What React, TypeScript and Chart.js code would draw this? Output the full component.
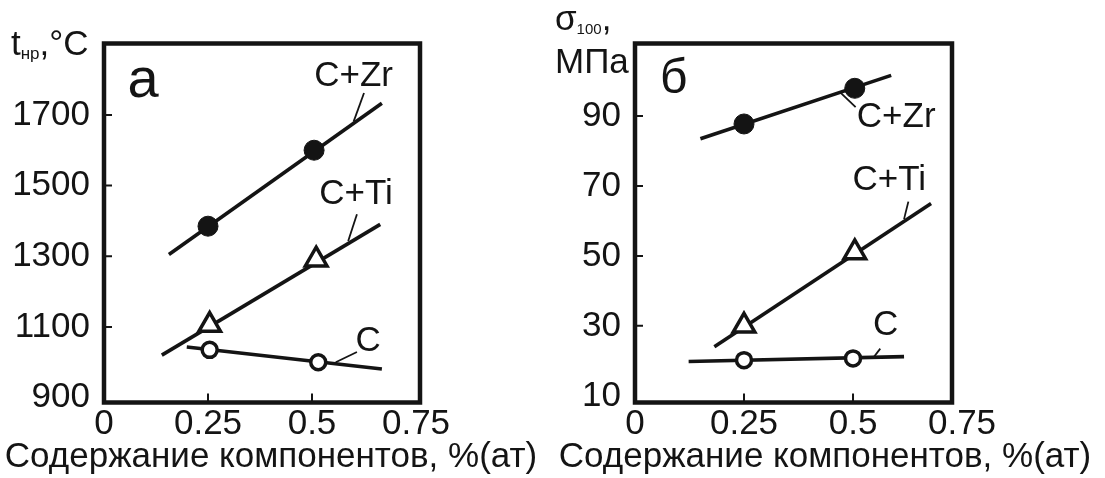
import React, { useEffect, useRef } from "react";
import { Chart, registerables } from "chart.js";

Chart.register(...registerables);

const FONT = '"Liberation Sans", Arial, Helvetica, sans-serif';
const INK = "#141414";

// ---------- shared ----------
const xTickValues = [0, 0.25, 0.5, 0.75];
const seriesNames = ["C+Zr", "C+Ti", "C"];
const xTitleText = "Содержание компонентов, %(ат)";

// ---------- panel а : t_нр, °C ----------
const tempTicks = [900, 1100, 1300, 1500, 1700];
const tempZrX = [0.25, 0.505];
const tempZr = [1385, 1600];
const tempTiX = [0.254, 0.51];
const tempTi = [1105, 1290];
const tempCX = [0.254, 0.515];
const tempC = [1035, 1000];
const tempZrFitX = [0.156, 0.668];
const tempZrFit = [1305, 1733];
const tempTiFitX = [0.139, 0.664];
const tempTiFit = [1020, 1390];
const tempCFitX = [0.199, 0.668];
const tempCFit = [1043, 981];

// ---------- panel б : σ100, МПа ----------
const stressTicks = [10, 30, 50, 70, 90];
const stressZrX = [0.25, 0.504];
const stressZr = [87.7, 97.9];
const stressTiX = [0.25, 0.504];
const stressTi = [30, 51];
const stressCX = [0.25, 0.5];
const stressC = [20.2, 20.7];
const stressZrFitX = [0.15, 0.5875];
const stressZrFit = [83.5, 101.6];
const stressTiFitX = [0.182, 0.679];
const stressTiFit = [24, 65];
const stressCFitX = [0.123, 0.617];
const stressCFit = [19.8, 21.2];

const pts = (xs: number[], ys: number[]) => xs.map((x, i) => ({ x, y: ys[i] }));

type Label = { text: string; x: number; y: number };
type Panel = {
  canvasWidth: number;
  left: number;
  yAxisWidth: number;
  padRight: number;
  yMin: number;
  yMax: number;
  xMax: number;
  yTicks: number[];
  fits: { x: number; y: number }[][];
  zr: { x: number; y: number }[];
  ti: { x: number; y: number }[];
  c: { x: number; y: number }[];
  leaders: { x: number; y: number }[][];
  labels: Label[];
  letter: Label & { size: number };
  xTitleX: number;
  yTitle: (ctx: CanvasRenderingContext2D) => void;
};

const TEXT = 35;
const font = (size: number) => `${size}px ${FONT}`;

const panelA: Panel = {
  canvasWidth: 552,
  left: 0,
  yAxisWidth: 104,
  padRight: 132,
  yMin: 886,
  yMax: 1902,
  xMax: 0.7596,
  yTicks: tempTicks,
  fits: [pts(tempZrFitX, tempZrFit), pts(tempTiFitX, tempTiFit), pts(tempCFitX, tempCFit)],
  zr: pts(tempZrX, tempZr),
  ti: pts(tempTiX, tempTi),
  c: pts(tempCX, tempC),
  leaders: [
    [{ x: 0.625, y: 1762 }, { x: 0.6, y: 1681 }],
    [{ x: 0.608, y: 1419 }, { x: 0.587, y: 1343 }],
    [{ x: 0.608, y: 1029 }, { x: 0.557, y: 1000 }],
  ],
  labels: [
    { text: seriesNames[0], x: 0.6, y: 1808 },
    { text: seriesNames[1], x: 0.606, y: 1475 },
    { text: seriesNames[2], x: 0.635, y: 1060 },
  ],
  letter: { text: "а", x: 0.094, y: 1793, size: 56 },
  xTitleX: 271,
  yTitle: (ctx) => {
    ctx.textAlign = "left";
    ctx.textBaseline = "alphabetic";
    let x = 11;
    ctx.font = font(TEXT);
    ctx.fillText("t", x, 55);
    x += ctx.measureText("t").width;
    ctx.font = font(17);
    ctx.fillText("нр", x, 59);
    x += ctx.measureText("нр").width;
    ctx.font = font(TEXT);
    ctx.fillText(",°C", x, 55);
  },
};

const panelB: Panel = {
  canvasWidth: 553,
  left: 552,
  yAxisWidth: 83,
  padRight: 153,
  yMin: 8.1,
  yMax: 110.7,
  xMax: 0.727,
  yTicks: stressTicks,
  fits: [pts(stressZrFitX, stressZrFit), pts(stressTiFitX, stressTiFit), pts(stressCFitX, stressCFit)],
  zr: pts(stressZrX, stressZr),
  ti: pts(stressTiX, stressTi),
  c: pts(stressCX, stressC),
  leaders: [
    [{ x: 0.47, y: 96.8 }, { x: 0.506, y: 92.5 }],
    [{ x: 0.627, y: 65.5 }, { x: 0.617, y: 60.5 }],
    [{ x: 0.5625, y: 23.5 }, { x: 0.546, y: 20.8 }],
  ],
  labels: [
    { text: seriesNames[0], x: 0.599, y: 89.6 },
    { text: seriesNames[1], x: 0.583, y: 71.5 },
    { text: seriesNames[2], x: 0.575, y: 30.2 },
  ],
  letter: { text: "б", x: 0.089, y: 100.3, size: 48 },
  xTitleX: 273,
  yTitle: (ctx) => {
    ctx.textAlign = "left";
    ctx.textBaseline = "alphabetic";
    let x = 3;
    ctx.font = font(TEXT);
    ctx.fillText("σ", x, 30);
    x += ctx.measureText("σ").width;
    ctx.font = font(15);
    ctx.fillText("100", x, 34);
    x += ctx.measureText("100").width;
    ctx.font = font(TEXT);
    ctx.fillText(",", x, 30);
    ctx.fillText("МПа", 3, 73);
  },
};

const decorPlugin = (panel: Panel) => ({
  id: "decor",
  afterDraw(chart: any) {
    const { ctx, chartArea: a, scales } = chart;
    const sx = scales.x;
    const sy = scales.y;
    ctx.save();
    ctx.strokeStyle = INK;
    ctx.fillStyle = INK;
    // frame
    ctx.lineWidth = 4.5;
    ctx.strokeRect(a.left, a.top, a.right - a.left, a.bottom - a.top);
    // inward tick marks
    ctx.lineWidth = 2;
    ctx.beginPath();
    sy.ticks.forEach((t: any) => {
      const py = sy.getPixelForValue(t.value);
      if (py > a.top + 10 && py < a.bottom - 10) {
        ctx.moveTo(a.left, py);
        ctx.lineTo(a.left + 8, py);
      }
    });
    sx.ticks.forEach((t: any) => {
      const px = sx.getPixelForValue(t.value);
      if (px > a.left + 10 && px < a.right - 10) {
        ctx.moveTo(px, a.bottom);
        ctx.lineTo(px, a.bottom - 9);
      }
    });
    ctx.stroke();
    // series labels
    ctx.textAlign = "center";
    ctx.textBaseline = "middle";
    ctx.font = font(TEXT);
    panel.labels.forEach((l) => {
      ctx.fillText(l.text, sx.getPixelForValue(l.x), sy.getPixelForValue(l.y));
    });
    // panel letter
    ctx.font = font(panel.letter.size);
    ctx.fillText(panel.letter.text, sx.getPixelForValue(panel.letter.x), sy.getPixelForValue(panel.letter.y));
    // x title
    ctx.font = font(TEXT);
    ctx.textBaseline = "alphabetic";
    ctx.fillText(xTitleText, panel.xTitleX, 467);
    // y title
    panel.yTitle(ctx);
    ctx.restore();
  },
});

function buildConfig(panel: Panel): any {
  const lineDs = (data: any[], width: number, order: number) => ({
    data,
    showLine: true,
    borderColor: INK,
    borderWidth: width,
    pointRadius: 0,
    pointHoverRadius: 0,
    fill: false,
    order,
  });
  const datasets: any[] = [
    ...panel.fits.map((d) => lineDs(d, 3.6, 2)),
    ...panel.leaders.map((d) => lineDs(d, 1.8, 2)),
    {
      label: seriesNames[0],
      data: panel.zr,
      showLine: false,
      pointStyle: "circle",
      pointRadius: 10,
      pointBackgroundColor: INK,
      pointBorderColor: INK,
      pointBorderWidth: 1,
      order: 0,
    },
    {
      label: seriesNames[1],
      data: panel.ti,
      showLine: false,
      pointStyle: "triangle",
      pointRadius: 12.5,
      pointBackgroundColor: "#ffffff",
      pointBorderColor: INK,
      pointBorderWidth: 3.5,
      order: 0,
    },
    {
      label: seriesNames[2],
      data: panel.c,
      showLine: false,
      pointStyle: "circle",
      pointRadius: 7.5,
      pointBackgroundColor: "#ffffff",
      pointBorderColor: INK,
      pointBorderWidth: 3.5,
      order: 0,
    },
  ];
  return {
    type: "scatter",
    data: { datasets },
    options: {
      responsive: false,
      animation: false,
      events: [],
      layout: { padding: { left: 0, top: 43.5, right: panel.padRight, bottom: 0 } },
      plugins: { legend: { display: false }, tooltip: { enabled: false } },
      scales: {
        x: {
          type: "linear",
          position: "bottom",
          min: 0,
          max: panel.xMax,
          afterBuildTicks: (s: any) => {
            s.ticks = xTickValues.map((v) => ({ value: v }));
          },
          afterFit: (s: any) => {
            s.height = 478 - 402.5;
          },
          grid: { display: false, drawTicks: false },
          border: { display: false },
          ticks: {
            autoSkip: false,
            maxRotation: 0,
            minRotation: 0,
            padding: 1,
            color: INK,
            font: { family: FONT, size: TEXT },
            callback: (v: any) => String(v),
          },
        },
        y: {
          type: "linear",
          position: "left",
          min: panel.yMin,
          max: panel.yMax,
          afterBuildTicks: (s: any) => {
            s.ticks = panel.yTicks.map((v) => ({ value: v }));
          },
          afterFit: (s: any) => {
            s.width = panel.yAxisWidth;
          },
          grid: { display: false, drawTicks: false },
          border: { display: false },
          ticks: {
            autoSkip: false,
            padding: 14,
            color: INK,
            font: { family: FONT, size: TEXT },
            callback: (v: any) => String(v),
          },
        },
      },
    },
    plugins: [decorPlugin(panel)],
  };
}

function PanelChart({ panel }: { panel: Panel }) {
  const ref = useRef<HTMLCanvasElement>(null);
  useEffect(() => {
    const chart = new Chart(ref.current as HTMLCanvasElement, buildConfig(panel));
    return () => chart.destroy();
  }, [panel]);
  return (
    <canvas
      ref={ref}
      width={panel.canvasWidth}
      height={478}
      style={{ position: "absolute", left: panel.left, top: 0, width: panel.canvasWidth, height: 478 }}
    />
  );
}

export default function App() {
  return (
    <div style={{ position: "absolute", left: 0, top: 0, width: 1105, height: 478, background: "#ffffff" }}>
      <PanelChart panel={panelA} />
      <PanelChart panel={panelB} />
    </div>
  );
}
